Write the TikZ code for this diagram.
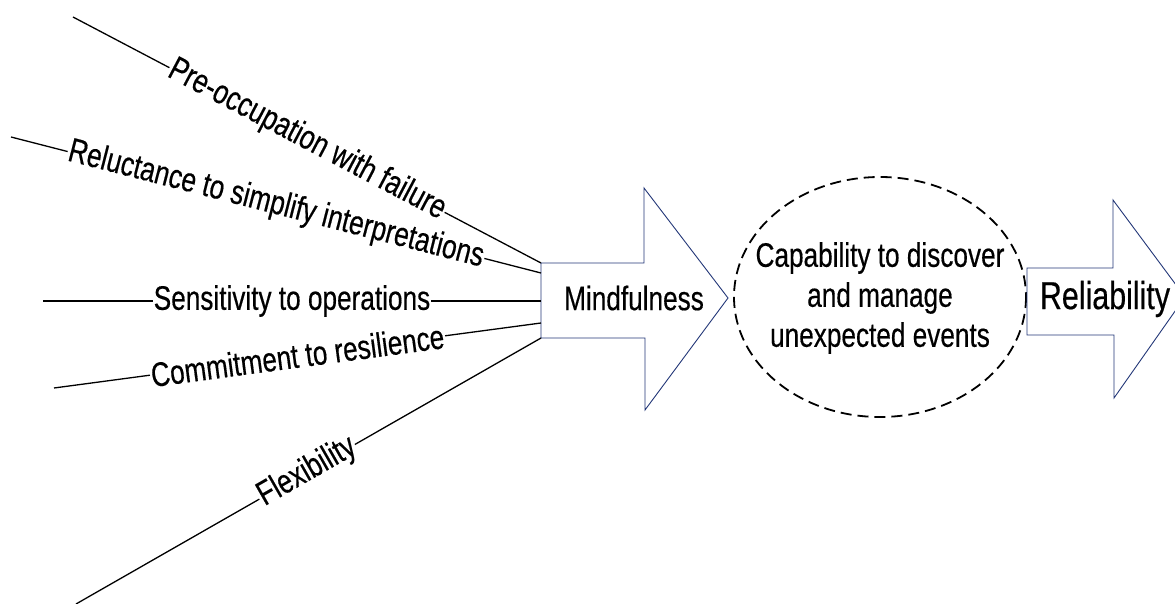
\documentclass[tikz,border=0pt]{standalone}
\usepackage{fontspec}
\newfontfamily\narfont[FakeStretch=0.77,FakeBold=0.4]{Liberation Sans}
\newfontfamily\relfont[FakeStretch=0.78,FakeBold=0.4]{Liberation Sans}
\definecolor{arrowblue}{RGB}{35,55,120}
\begin{document}
\begin{tikzpicture}[x=1pt,y=-1pt,
  lbl/.style={font=\narfont\fontsize{34}{39}\selectfont, inner sep=1pt, sloped},
  conn/.style={draw=black, line width=1.3pt},
  bigarrow/.style={draw=arrowblue, line width=0.9pt, fill=white},
  txt/.style={font=\narfont\fontsize{34}{40}\selectfont, align=center, inner sep=0pt},
  bigtxt/.style={font=\relfont\fontsize{39}{44}\selectfont, inner sep=0pt},
  capring/.style={draw=black, dash pattern=on 11pt off 6pt, line width=1.8pt}]
\useasboundingbox (0,0) rectangle (1175,604);
\clip (0,0) rectangle (1175,604);

% Mindfulness arrow
\draw[bigarrow] (541,263) coordinate (m1) -- (644,263) -- (644,188) -- (728,298) -- (645,410) -- (645,338) -- (541,338) coordinate (m5) -- cycle;
\node[txt] (mind) at (634,298) {Mindfulness};

% shaft attachment points
\coordinate (m2) at (541,273);
\coordinate (m3) at (541,301);
\coordinate (m4) at (541,323);

% outer end points
\coordinate (s1) at (73,17);
\coordinate (s2) at (11,137);
\coordinate (s3) at (43,301);
\coordinate (s4) at (54,388);
\coordinate (s5) at (76,604);

\path (s1) -- (m1) node[lbl, midway] (t1) {Pre-occupation with failure};
\path (s2) -- (m2) node[lbl, midway] (t2) {Reluctance to simplify interpretations};
\path (s3) -- (m3) node[lbl, midway] (t3) {Sensitivity to operations};
\path (s4) -- (m4) node[lbl, midway] (t4) {Commitment to resilience};
\path (s5) -- (m5) node[lbl, pos=0.497] (t5) {Flexibility};

\draw[conn] (s1) -- (t1.west); \draw[conn] (t1.east) -- (m1);
\draw[conn] (s2) -- (t2.west); \draw[conn] (t2.east) -- (m2);
\draw[conn] (s3) -- (t3.west); \draw[conn] (t3.east) -- (m3);
\draw[conn] (s4) -- (t4.west); \draw[conn] (t4.east) -- (m4);
\draw[conn] (s5) -- (t5.west); \draw[conn] (t5.east) -- (m5);

% dashed ellipse
\draw[capring] (880,297) ellipse [x radius=146, y radius=120];
\node[txt] (cap) at (880,298) {Capability to discover\\and manage\\unexpected events};

% Reliability arrow
\draw[bigarrow] (1027,268) -- (1113,268) -- (1113,200) -- (1185,297) -- (1114,398) -- (1114,335) -- (1027,335) -- cycle;
\node[bigtxt] (rel) at (1105,299) {Reliability};
\end{tikzpicture}
\end{document}
